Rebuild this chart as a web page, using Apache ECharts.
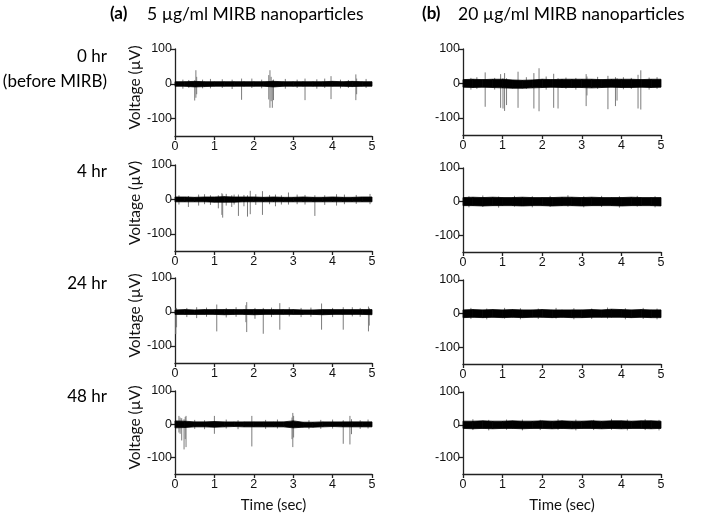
<!DOCTYPE html>
<html><head><meta charset="utf-8">
<script src="https://cdn.jsdelivr.net/npm/echarts@6/dist/echarts.min.js"></script>
<style>html,body{margin:0;padding:0;background:#fff}#c{width:708px;height:514px}</style>
</head><body><div id="c"></div>
<script>
// ---------- DATA ----------
const xTicks = [0, 1, 2, 3, 4, 5];
const yTicks = [-100, 0, 100];
const bandTimes = [0,0.25,0.5,0.75,1,1.25,1.5,1.75,2,2.25,2.5,2.75,3,3.25,3.5,3.75,4,4.25,4.5,4.75,5];
const columnTitles = ["5 µg/ml MIRB nanoparticles", "20 µg/ml MIRB nanoparticles"];
const columnTags = ["(a)", "(b)"];
const rowLabels = ["0 hr", "4 hr", "24 hr", "48 hr"];
const rowSubLabel = "(before MIRB)";
const yName = "Voltage (µV)";
const xName = "Time (sec)";

// noise band envelopes (µV) at bandTimes, panels: a0,b0,a4,b4,a24,b24,a48,b48
const bandHi_a0  = [6,6,7,6,6,6,6,6,6,6,7,6,6,6,6,6,7,6,7,6,6];
const bandLo_a0  = [-7,-7,-9,-8,-7,-7,-7,-7,-7,-7,-9,-7,-7,-7,-7,-7,-7,-7,-8,-7,-7];
const bandHi_b0  = [11,12,11,12,12,10,9,10,12,11,12,12,12,12,11,12,12,12,11,12,12];
const bandLo_b0  = [-11,-12,-11,-12,-13,-14,-14,-13,-12,-11,-12,-12,-12,-13,-12,-11,-12,-12,-11,-12,-11];
const bandHi_a4  = [7,7,6,7,7,8,7,7,7,6,7,6,6,7,6,6,7,6,6,7,7];
const bandLo_a4  = [-7,-7,-7,-7,-8,-8,-8,-7,-7,-7,-7,-7,-7,-7,-7,-7,-7,-7,-7,-7,-7];
const bandHi_a24 = [6,7,6,7,7,7,7,7,7,7,7,7,7,6,6,7,7,7,7,7,7];
const bandLo_a24 = [-7,-7,-7,-7,-7,-8,-7,-7,-8,-7,-7,-7,-7,-7,-7,-8,-7,-7,-7,-7,-8];
const bandHi_b4  = [12,13,12,13,12,12,13,12,12,12,13,13,12,13,12,12,12,13,12,12,12];
const bandLo_b4  = [-12,-12,-13,-12,-12,-12,-13,-12,-12,-13,-12,-12,-13,-12,-12,-12,-13,-12,-12,-12,-13];
const bandHi_b24 = [11,12,11,12,11,12,11,11,12,11,11,11,11,12,11,13,12,11,12,11,11];
const bandLo_b24 = [-12,-11,-12,-11,-12,-11,-12,-11,-11,-12,-11,-12,-12,-11,-11,-11,-11,-12,-11,-12,-12];
const bandHi_a48 = [10,9,7,7,8,7,7,7,7,7,7,7,10,6,6,7,7,7,7,7,7];
const bandLo_a48 = [-11,-10,-8,-8,-9,-8,-7,-8,-8,-8,-8,-8,-11,-9,-9,-8,-7,-8,-8,-8,-8];
const bandHi_b48 = [11,11,12,11,11,12,11,11,12,11,12,11,11,12,11,12,12,11,12,12,11];
const bandLo_b48 = [-11,-12,-11,-12,-11,-11,-12,-11,-11,-12,-11,-12,-11,-11,-12,-11,-12,-11,-11,-12,-11];

// spikes: [time s, min µV, max µV]
const spikes_a0 = [[0.50,-48,10],[0.53,-40,39],[0.55,-30,20],[1.69,-46,15],[2.38,-45,25],[2.41,-69,39],[2.44,-50,20],[2.47,-69,10],[2.50,-47,12],[3.30,-47,15],[3.96,-44,22],[4.59,-47,27],[4.61,-30,15],
  [0.2,-14,12],[0.35,-12,11],[0.7,-13,12],[0.9,-13,14],[1.2,-12,13],[1.45,-15,12],[1.95,-12,15],[2.2,-13,12],[2.8,-14,14],[3.1,-12,12],[3.6,-14,13],[3.8,-12,15],[4.2,-13,12],[4.4,-12,11],[4.85,-12,14]];
const spikes_b0 = [[0.56,-68,32],[0.95,-71,27],[1.01,-73,15],[1.05,-80,30],[1.10,-63,15],[1.39,-71,34],[1.79,-73,30],[1.92,-81,44],[2.29,-71,28],[2.40,-73,15],[3.11,-66,27],[3.13,-35,20],[3.66,-75,22],[3.85,-66,18],[3.89,-50,15],[4.42,-73,25],[4.49,-76,38],
  [0.2,-18,16],[0.35,-16,18],[0.8,-18,16],[1.6,-16,18],[2.1,-18,20],[2.6,-16,17],[2.85,-18,16],[3.4,-16,19],[4.05,-17,18],[4.25,-16,16],[4.7,-18,17],[4.9,-16,18]];
const spikes_a4 = [[0.34,-22,10],[1.10,-26,12],[1.19,-45,18],[1.21,-53,15],[1.44,-22,12],[1.61,-48,14],[1.84,-50,12],[1.91,-43,25],[2.22,-45,24],[2.55,-20,14],[2.88,-15,20],[3.55,-48,12],[4.1,-18,15],
  [0.1,-15,12],[0.6,-18,14],[0.75,-14,15],[0.9,-16,12],[1.3,-18,16],[1.5,-15,14],[1.75,-20,13],[2.05,-16,15],[2.4,-14,13],[2.7,-15,12],[3.1,-14,14],[3.3,-15,13],[3.8,-16,12],[4.3,-14,14],[4.6,-13,13],[4.95,-14,16]];
const spikes_b4 = [[0.15,-17,16],[0.5,-16,18],[0.9,-18,15],[1.3,-15,17],[1.75,-17,16],[2.2,-16,17],[2.65,-15,19],[3.05,-17,16],[3.5,-16,17],[3.95,-18,16],[4.4,-15,17],[4.85,-17,16]];
const spikes_a24 = [[0.02,-65,10],[0.04,-45,12],[1.06,-57,22],[1.80,-30,20],[1.82,-59,29],[2.03,-20,12],[2.24,-64,12],[2.66,-52,26],[3.72,-52,25],[4.27,-52,14],[4.91,-57,16],[4.93,-40,12],[0.55,-18,14],
  [0.3,-15,12],[0.8,-14,13],[1.3,-16,12],[1.55,-14,14],[2.45,-15,13],[2.9,-13,14],[3.2,-15,12],[3.45,-14,13],[4.0,-15,12],[4.5,-13,14],[4.7,-14,12]];
const spikes_b24 = [[0.2,-16,17],[0.6,-17,15],[1.05,-15,17],[1.45,-17,16],[1.9,-16,15],[2.35,-15,17],[2.8,-17,16],[3.25,-16,15],[3.65,-15,18],[4.1,-17,16],[4.55,-16,17],[4.9,-17,15]];
const spikes_a48 = [[0.10,-25,25],[0.13,-29,20],[0.17,-49,18],[0.23,-76,15],[0.26,-45,22],[0.28,-69,25],[1.00,-29,25],[1.95,-67,25],[2.97,-45,20],[2.99,-69,34],[3.01,-40,25],[4.27,-59,12],[4.44,-61,25],[4.48,-30,15],
  [0.5,-14,13],[0.75,-15,12],[1.3,-13,14],[1.6,-15,12],[2.3,-14,13],[2.6,-13,14],[3.4,-15,12],[3.7,-14,13],[4.0,-13,14],[4.7,-14,12],[4.9,-13,14]];
const spikes_b48 = [[0.25,-16,17],[0.65,-17,15],[1.1,-15,16],[1.5,-17,16],[1.95,-16,15],[2.4,-15,17],[2.85,-17,16],[3.3,-16,15],[3.75,-15,18],[4.15,-17,16],[4.6,-16,17],[4.95,-17,15]];

const bandsHi = [bandHi_a0, bandHi_b0, bandHi_a4, bandHi_b4, bandHi_a24, bandHi_b24, bandHi_a48, bandHi_b48];
const bandsLo = [bandLo_a0, bandLo_b0, bandLo_a4, bandLo_b4, bandLo_a24, bandLo_b24, bandLo_a48, bandLo_b48];
const spikeSets = [spikes_a0, spikes_b0, spikes_a4, spikes_b4, spikes_a24, spikes_b24, spikes_a48, spikes_b48];

// ---------- LAYOUT ----------
const colLeft = [175, 463], colWidth = [197, 198];
const gridTop = [[49,165,278,391],[49,168,280,392]];
const gridH = [[87,86,85,84],[86,84,84,85]];
const rowLabelY = [58, 173, 285, 398];
const font = 'Liberation Sans, Arial, sans-serif';
const tfont = 'Lato, "Open Sans", sans-serif';
const axisCol = '#222';

const chart = echarts.init(document.getElementById('c'), null, {renderer: 'canvas'});
const grid = [], xAxis = [], yAxis = [], series = [];
for (let p = 0; p < 8; p++) {
  const col = p % 2, row = Math.floor(p / 2);
  grid.push({left: colLeft[col], width: colWidth[col], top: gridTop[col][row], height: gridH[col][row]});
  xAxis.push({
    type: 'value', gridIndex: p, min: 0, max: 5, interval: 1,
    axisLine: {onZero: false, lineStyle: {color: axisCol, width: 1.3}},
    axisTick: {length: 4, lineStyle: {color: axisCol, width: 1.3}},
    axisLabel: {color: '#111', fontSize: 12.5, fontFamily: font, margin: 4,
      customValues: xTicks},
    splitLine: {show: false},
    name: row === 3 ? xName : '', nameLocation: 'middle', nameGap: 24,
    nameTextStyle: {fontFamily: tfont, fontSize: 15, color: '#111'}
  });
  yAxis.push({
    type: 'value', gridIndex: p, min: -150, max: 100,
    axisLine: {show: true, onZero: false, lineStyle: {color: axisCol, width: 1.3}},
    axisTick: {show: true, length: 4, customValues: yTicks, lineStyle: {color: axisCol, width: 1.3}},
    axisLabel: {color: '#111', fontSize: 12.5, fontFamily: font, margin: 3, customValues: yTicks},
    splitLine: {show: false},
    name: col === 0 ? yName : '', nameLocation: 'middle', nameGap: 29, nameRotate: 90,
    nameTextStyle: {fontFamily: tfont, fontSize: 15.5, color: '#111', padding: [0, 0, 0, 10]}
  });
  const segs = [];
  for (let i = 0; i < bandTimes.length - 1; i++) {
    segs.push([bandTimes[i], bandTimes[i+1], bandsLo[p][i], bandsHi[p][i], bandsLo[p][i+1], bandsHi[p][i+1]]);
  }
  series.push({
    type: 'custom', xAxisIndex: p, yAxisIndex: p, z: 2, silent: true,
    data: spikeSets[p],
    encode: {x: 0, y: [1, 2]},
    renderItem: function (params, api) {
      const a = api.coord([api.value(0), api.value(1)]);
      const b = api.coord([api.value(0), api.value(2)]);
      return {type: 'line', shape: {x1: a[0], y1: a[1], x2: b[0], y2: b[1]},
        style: {stroke: '#7c7c7c', lineWidth: 1}};
    }
  });
  series.push({
    type: 'custom', xAxisIndex: p, yAxisIndex: p, z: 3, silent: true,
    data: segs,
    encode: {x: [0, 1], y: [2, 3, 4, 5]},
    renderItem: function (params, api) {
      const p1 = api.coord([api.value(0), api.value(3)]);
      const p2 = api.coord([api.value(1), api.value(5)]);
      const p3 = api.coord([api.value(1), api.value(4)]);
      const p4 = api.coord([api.value(0), api.value(2)]);
      return {type: 'polygon', shape: {points: [p1, p2, p3, p4]},
        style: {fill: '#000', stroke: '#000', lineWidth: 0.8}};
    }
  });
}

const graphic = [
  {type: 'text', left: 110, top: 5, style: {text: columnTags[0], font: 'bold 17px ' + tfont, fill: '#000'}},
  {type: 'text', left: 147, top: 5, style: {text: columnTitles[0], font: '17.5px ' + tfont, fill: '#000'}},
  {type: 'text', left: 422, top: 5, style: {text: columnTags[1], font: 'bold 17px ' + tfont, fill: '#000'}},
  {type: 'text', left: 458, top: 5, style: {text: columnTitles[1], font: '17.5px ' + tfont, fill: '#000'}},
  {type: 'text', right: 601, top: 73, style: {text: rowSubLabel, font: '17px ' + tfont, fill: '#000'}}
];
rowLabels.forEach((t, i) => {
  graphic.push({type: 'text', right: 601, top: rowLabelY[i] - 10, style: {text: t, font: '17px ' + tfont, fill: '#000'}});
});

chart.setOption({animation: false, backgroundColor: '#fff', grid, xAxis, yAxis, series, graphic});
</script></body></html>
